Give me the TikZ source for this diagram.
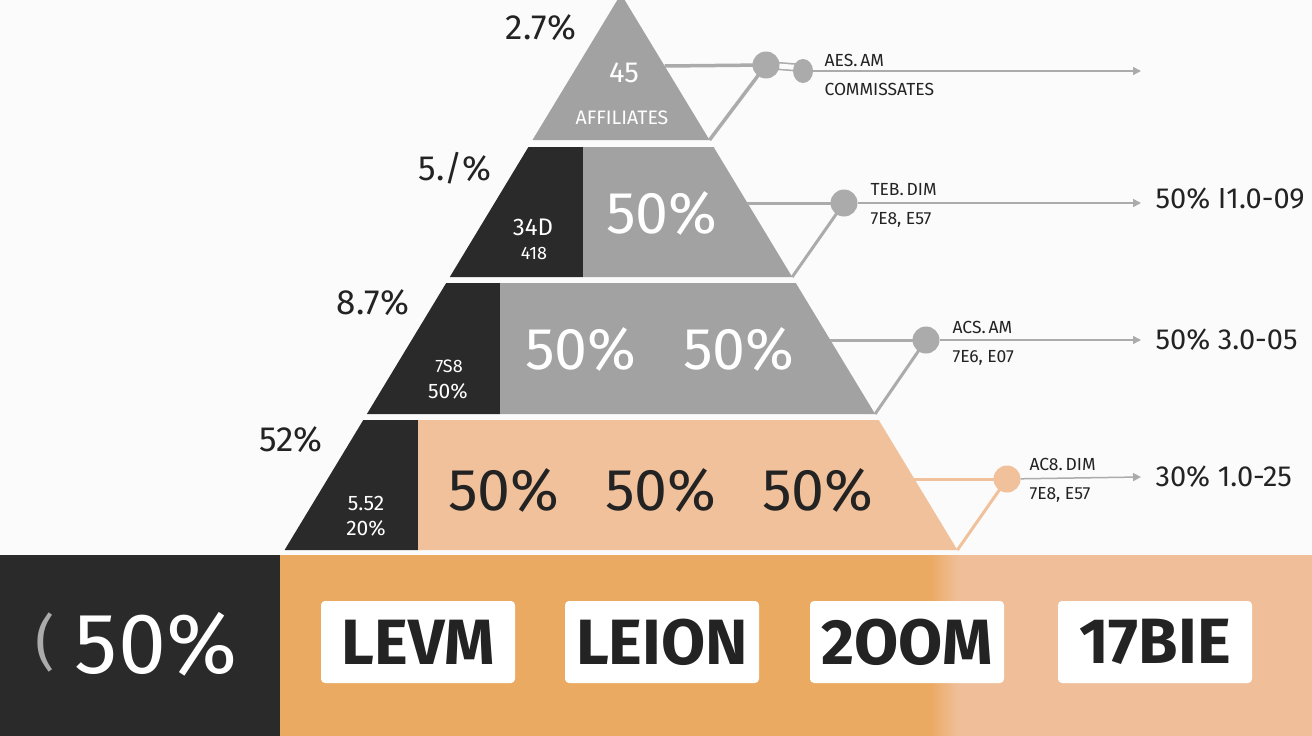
\documentclass[tikz,border=0pt]{standalone}
\usepackage{fontspec}
\setmainfont{Fira Sans}
\usetikzlibrary{arrows.meta,shapes.geometric}

\definecolor{paper}{HTML}{FBFBFB}
\definecolor{pyrgray}{HTML}{A2A2A2}
\definecolor{pyrdark}{HTML}{2A2A2A}
\definecolor{pyrpeach}{HTML}{F1C19B}
\definecolor{barorange}{HTML}{EBAA62}
\definecolor{barlight}{HTML}{F0BF99}
\definecolor{linegray}{HTML}{ABABAB}
\definecolor{inkdark}{HTML}{232323}

\tikzset{
  tierlabel/.style={text=inkdark, font=\fontsize{35}{38}\selectfont},
  bigpct/.style={font=\fontsize{59}{61}\selectfont},
  smallwhite/.style={text=white, font=\fontsize{21}{23}\selectfont},
  hub/.style={circle, fill=#1, inner sep=0pt, minimum size=27pt},
  conn/.style={line width=3pt, draw=#1},
  guide/.style={line width=1.5pt, draw=linegray, -{Triangle[length=8pt,width=8pt]}},
  tag/.style={anchor=west, text=inkdark, font=\fontsize{17.5}{19}\selectfont},
  readout/.style={anchor=west, text=inkdark, font=\fontsize{29}{31}\selectfont},
  boxlabel/.style={fill=white, rounded corners=4pt, minimum width=194pt, minimum height=82pt,
    text=inkdark, font=\bfseries\fontsize{64}{66}\selectfont},
}

\begin{document}
\begin{tikzpicture}[x=1pt,y=-1pt]
    \useasboundingbox (0,0) rectangle (1312,736);
    \clip (0,0) rectangle (1312,736);
    \fill [paper] (0,0) rectangle (1312,736);

    % pyramid corners
    \coordinate (apex) at (621,-6);
    \coordinate (t1bl) at (532.5,140);
    \coordinate (t1br) at (709.5,140);
    \coordinate (t2tl) at (528.4,147);
    \coordinate (t2tr) at (713.6,147);
    \coordinate (t2bl) at (449.8,277);
    \coordinate (t2br) at (792.2,277);
    \coordinate (t3tl) at (446.2,283);
    \coordinate (t3tr) at (795.8,283);
    \coordinate (t3bl) at (366.9,414);
    \coordinate (t3br) at (875.1,414);
    \coordinate (t4tl) at (363.3,420);
    \coordinate (t4tr) at (878.7,420);
    \coordinate (t4bl) at (284.6,550);
    \coordinate (t4br) at (957.4,550);

    % tiers
    \fill [pyrgray] (apex) -- (t1br) -- (t1bl) -- cycle;
    \fill [pyrdark] (t2tl) -- (583,147) -- (583,277) -- (t2bl) -- cycle;
    \fill [pyrgray] (583,147) -- (t2tr) -- (t2br) -- (583,277) -- cycle;
    \fill [pyrdark] (t3tl) -- (500,283) -- (500,414) -- (t3bl) -- cycle;
    \fill [pyrgray] (500,283) -- (t3tr) -- (t3br) -- (500,414) -- cycle;
    \fill [pyrdark] (t4tl) -- (418,420) -- (418,550) -- (t4bl) -- cycle;
    \fill [pyrpeach] (418,420) -- (t4tr) -- (t4br) -- (418,550) -- cycle;

    % bottom bar
    \fill [pyrdark] (0,555) rectangle (280,736);
    \fill [barorange] (280,555) rectangle (930,736);
    \shade [left color=barorange, right color=barlight] (930,555) rectangle (958,736);
    \fill [barlight] (958,555) rectangle (1312,736);

    % labels on the left
    \node [tierlabel] (p1) at (541,28) {2.7\%};
    \node [tierlabel] (p2) at (455,168) {5./\%};
    \node [tierlabel] (p3) at (373,303) {8.7\%};
    \node [tierlabel] (p4) at (291,440) {52\%};

    % text inside the tiers
    \node [text=white, font=\fontsize{29}{31}\selectfont] (n45) at (624,73) {45};
    \node [text=white, font=\fontsize{19.5}{21}\selectfont] (aff) at (622,118) {AFFILIATES};
    \node [text=white, font=\fontsize{24}{26}\selectfont] (d2a) at (533,227) {34D};
    \node [text=white, font=\fontsize{18}{20}\selectfont] (d2b) at (534,253) {418};
    \node [bigpct, text=white] (g2) at (662,213) {50\%};
    \node [text=white, font=\fontsize{18}{20}\selectfont] (d3a) at (449,366) {7S8};
    \node [smallwhite] (d3b) at (448,391) {50\%};
    \node [bigpct, text=white] (g3a) at (581,349) {50\%};
    \node [bigpct, text=white] (g3b) at (739,349) {50\%};
    \node [smallwhite] (d4a) at (366,503) {5.52};
    \node [smallwhite] (d4b) at (366,528) {20\%};
    \node [bigpct, text=inkdark] (g4a) at (504,490) {50\%};
    \node [bigpct, text=inkdark] (g4b) at (661,490) {50\%};
    \node [bigpct, text=inkdark] (g4c) at (818,490) {50\%};

    % connectors
    \coordinate (e1) at (664.6,66);
    \coordinate (e2) at (747.4,203);
    \coordinate (e3) at (830.3,340);
    \coordinate (e4) at (914.4,479);
    \coordinate (k1) at (766,65);
    \coordinate (k2) at (844,203);
    \coordinate (k3) at (926,340);
    \coordinate (k4) at (1007,479);
    \coordinate (a1) at (1141,71);
    \coordinate (a2) at (1141,203);
    \coordinate (a3) at (1141,340);
    \coordinate (a4) at (1141,477);
    \draw [conn=linegray, line width=3.5pt] (e1) -- (k1);
    \draw [conn=linegray, line width=3.5pt] (t1br) -- (k1);
    \draw [conn=linegray] (e2) -- (k2);
    \draw [conn=linegray] (t2br) -- (k2);
    \draw [conn=linegray] (e3) -- (k3);
    \draw [conn=linegray] (t3br) -- (k3);
    \draw [conn=pyrpeach] (e4) -- (k4);
    \draw [conn=pyrpeach] (t4br) -- (k4);
    \draw [linegray, line width=1.6pt, double=paper, double distance=5pt] (k1) -- (803,68);
    \node [hub=linegray] (c1) at (k1) {};
    \node [ellipse, fill=linegray, inner sep=0pt, minimum width=20pt, minimum height=24pt] (c1b) at (803,71) {};
    \node [hub=linegray] (c2) at (k2) {};
    \node [hub=linegray] (c3) at (k3) {};
    \node [hub=pyrpeach] (c4) at (k4) {};
    \draw [guide] (c1b) -- (a1);
    \draw [guide] (c2) -- (a2);
    \draw [guide] (c3) -- (a3);
    \draw [guide] (c4) -- (a4);

    % small tags
    \node [tag] (t1a) at (821,60) {AES.\,AM};
    \node [tag] (t1b) at (821,89) {COMMISSATES};
    \node [tag] (t2a) at (867,190) {TEB.\,DIM};
    \node [tag] (t2b) at (867,220) {7E8, E57};
    \node [tag] (t3a) at (949,327) {ACS.\,AM};
    \node [tag] (t3b) at (949,358) {7E6, E07};
    \node [tag] (t4a) at (1026,464) {AC8.\,DIM};
    \node [tag] (t4b) at (1026,495) {7E8, E57};

    % readouts
    \node [readout] (r2) at (1152,199) {50\% I1.0-09};
    \node [readout] (r3) at (1152,340) {50\% 3.0-05};
    \node [readout] (r4) at (1152,477) {30\% 1.0-25};

    % bottom bar labels
    \node [text=linegray, font=\fontsize{60}{62}\selectfont] (brk) at (45,642) {(};
    \node [text=white, font=\fontsize{86}{88}\selectfont] (big) at (156,644) {50\%};
    \node [boxlabel] (b1) at (418,642) {LEVM};
    \node [boxlabel] (b2) at (662,642) {LEION};
    \node [boxlabel] (b3) at (907,642) {2OOM};
    \node [boxlabel] (b4) at (1155,642) {17BIE};
\end{tikzpicture}
\end{document}
